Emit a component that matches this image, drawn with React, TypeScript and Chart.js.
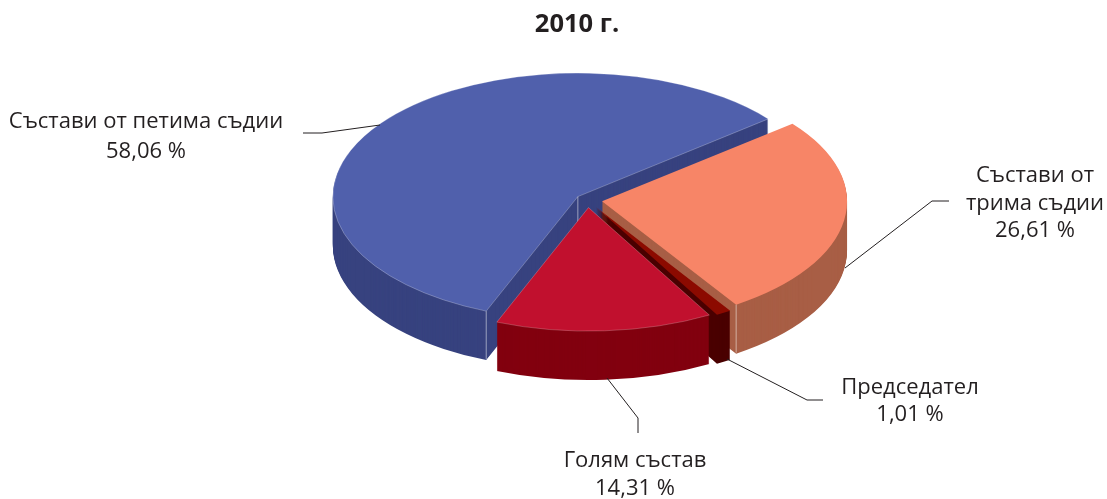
import React, { useEffect, useRef } from "react";
import { Chart, registerables } from "chart.js";

Chart.register(...registerables);

const chartTitle = "2010 г.";
const categories = ["Състави от трима съдии", "Председател", "Голям състав", "Състави от петима съдии"];
const shares = [26.61, 1.01, 14.31, 58.06];
const topColors = ["#f78567", "#8c0a00", "#c1102e", "#5060ac"];
const sideColors = ["#a85e45", "#4a0000", "#82000f", "#37427f"];
const explodePx = [14.7, 16.5, 14.7, 12];
const edgeStroke = ["rgba(255,255,255,0)", "rgba(255,255,255,0)", "rgba(255,255,255,0.3)", "rgba(255,255,255,0.35)"];

const paintOrder = [3, 0, 1, 2];
const CENTER_X = 587.5;
const CENTER_Y = 200.2;
const RADIUS = 245;
const TILT = 0.504;
const DEPTH = 49;
const INK = "#231f20";
const FONT = '"Open Sans", "Noto Sans", sans-serif';

const labelBlocks = [
  { slice: 3, cx: 146, ys: [121.5, 151.5], lines: ["Състави от петима съдии"] },
  { slice: 0, cx: 1035, ys: [176, 204, 231], lines: ["Състави от", "трима съдии"] },
  { slice: 1, cx: 910, ys: [388, 415], lines: ["Председател"] },
  { slice: 2, cx: 635, ys: [461, 489], lines: ["Голям състав"] },
];
const leaders = [
  [[303, 133], [322, 133], [380, 125]],
  [[949, 201], [932, 201], [845, 268]],
  [[823, 400], [807, 400], [727, 359]],
  [[607, 378], [638, 418], [638, 433]],
];

const pie3d = {
  id: "pie3d",
  beforeDatasetsDraw(chart: any) {
    const ctx = chart.ctx;
    const arcs = chart.getDatasetMeta(0).data;
    for (const i of paintOrder) {
      const arc = arcs[i];
      const base = arc.options;
      const s = RADIUS / arc.outerRadius;
      const mid = (arc.startAngle + arc.endAngle) / 2;
      const ox = CENTER_X + Math.cos(mid) * explodePx[i];
      const oy = CENTER_Y + Math.sin(mid) * explodePx[i] * TILT;
      const place = (dy: number) => {
        ctx.setTransform(1, 0, 0, 1, 0, 0);
        ctx.translate(ox, oy + dy);
        ctx.scale(s, s * TILT);
        ctx.translate(-arc.x, -arc.y);
      };
      ctx.save();
      arc.options = Object.assign(Object.create(base), { backgroundColor: sideColors[i], borderWidth: 0 });
      for (let dy = DEPTH; dy >= 1; dy--) {
        place(dy);
        arc.draw(ctx);
      }
      arc.options = Object.assign(Object.create(base), {
        backgroundColor: topColors[i],
        borderColor: edgeStroke[i],
        borderWidth: 1,
      });
      place(0);
      arc.draw(ctx);
      arc.options = base;
      ctx.setTransform(1, 0, 0, 1, 0, 0);

      // light vertical seam at the exposed corner of the two large slices
      const project = (angle: number, r: number) => [
        ox + Math.cos(angle) * r * s,
        oy + Math.sin(angle) * r * s * TILT,
      ];
      const seams: number[][] = [];
      if (i === 3) seams.push(project(arc.startAngle, arc.outerRadius), project(arc.startAngle, 0));
      if (i === 0) seams.push(project(arc.endAngle, arc.outerRadius));
      ctx.strokeStyle = "rgba(255,255,255,0.5)";
      ctx.lineWidth = 1;
      for (const [x, y] of seams) {
        ctx.beginPath();
        ctx.moveTo(x, y);
        ctx.lineTo(x, y + DEPTH - 1);
        ctx.stroke();
      }
      ctx.restore();
    }
    return false;
  },
  afterDraw(chart: any) {
    const ctx = chart.ctx;
    ctx.save();
    ctx.textAlign = "center";
    ctx.textBaseline = "middle";
    ctx.fillStyle = INK;
    ctx.font = `bold 25.5px ${FONT}`;
    ctx.fillText(chartTitle, 577, 25);
    ctx.font = `22px ${FONT}`;
    for (const b of labelBlocks) {
      const text = [...b.lines, shares[b.slice].toFixed(2).replace(".", ",") + " %"];
      text.forEach((t, k) => ctx.fillText(t, b.cx, b.ys[k]));
    }
    ctx.strokeStyle = INK;
    ctx.lineWidth = 1;
    for (const pts of leaders) {
      ctx.beginPath();
      pts.forEach(([x, y], k) => (k ? ctx.lineTo(x, y) : ctx.moveTo(x, y)));
      ctx.stroke();
    }
    ctx.restore();
  },
};

export default function App() {
  const ref = useRef<HTMLCanvasElement>(null);
  useEffect(() => {
    document.body.style.margin = "0";
    const chart = new Chart(ref.current as HTMLCanvasElement, {
      type: "pie",
      data: {
        labels: categories,
        datasets: [{ data: shares, backgroundColor: topColors, borderWidth: 0 }],
      },
      options: {
        responsive: false,
        animation: false,
        rotation: 51,
        plugins: { legend: { display: false }, tooltip: { enabled: false }, title: { display: false } },
      },
      plugins: [pie3d],
    } as any);
    return () => chart.destroy();
  }, []);
  return (
    <div style={{ width: 1107, height: 499, background: "#fff" }}>
      <canvas ref={ref} width={1107} height={499} style={{ display: "block" }} />
    </div>
  );
}
